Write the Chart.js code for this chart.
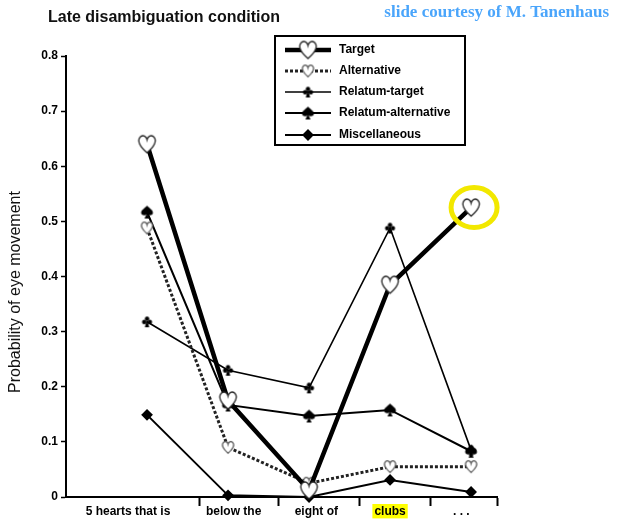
<!DOCTYPE html>
<html>
<head>
<meta charset="utf-8">
<script src="https://cdn.jsdelivr.net/npm/chart.js@4.4.0/dist/chart.umd.min.js"></script>
<style>
  html, body { margin: 0; padding: 0; background: #fff; }
  #wrap { position: relative; width: 622px; height: 519px; }
</style>
</head>
<body>
<div id="wrap"><canvas id="chart" width="622" height="519"></canvas></div>
<script>
// word positions along the sentence
const categories = ["5 hearts that is", "below the", "eight of", "clubs", ". . ."];
const categoryPos = [0, 1, 2, 3, 4];
const yTicks = [0, 0.1, 0.2, 0.3, 0.4, 0.5, 0.6, 0.7, 0.8];

// probability of eye movement per word
const target = [0.64, 0.175, 0.012, 0.385, 0.525];
const alternative = [0.488, 0.09, 0.025, 0.055, 0.055];
const relatumTarget = [0.318, 0.23, 0.198, 0.488, 0.085];
const relatumAlternative = [0.517, 0.167, 0.147, 0.158, 0.083];
const miscellaneous = [0.149, 0.003, 0.0, 0.031, 0.009];

// axis layout (dividers between words, label centres)
const dividerPos = [0.654, 1.617, 2.617, 3.494, 4.32];
const labelPos = [-0.235, 1.07, 2.09, 3.0, 3.88];

const FONT = '"Liberation Sans", Arial, sans-serif';

function makeCanvas(w, h) {
    const c = document.createElement("canvas");
    c.width = w; c.height = h;
    return c;
}

function heart(size, lw, stroke) {
    const c = makeCanvas(size + 4, size + 4);
    const g = c.getContext("2d");
    const s = size, ox = 2, oy = 2;
    g.beginPath();
    g.moveTo(ox + s / 2, oy + s * 0.95);
    g.bezierCurveTo(ox + s * 0.12, oy + s * 0.62, ox - s * 0.04, oy + s * 0.32, ox + s * 0.14, oy + s * 0.12);
    g.bezierCurveTo(ox + s * 0.3, oy - s * 0.02, ox + s * 0.46, oy + s * 0.08, ox + s / 2, oy + s * 0.26);
    g.bezierCurveTo(ox + s * 0.54, oy + s * 0.08, ox + s * 0.7, oy - s * 0.02, ox + s * 0.86, oy + s * 0.12);
    g.bezierCurveTo(ox + s * 1.04, oy + s * 0.32, ox + s * 0.88, oy + s * 0.62, ox + s / 2, oy + s * 0.95);
    g.closePath();
    g.fillStyle = "#fff";
    g.fill();
    g.lineWidth = lw;
    g.strokeStyle = stroke;
    g.stroke();
    return c;
}

function spade(size) {
    const c = makeCanvas(size + 2, size + 2);
    const g = c.getContext("2d");
    const s = size, ox = 1, oy = 1;
    g.fillStyle = "#000";
    g.beginPath();
    g.moveTo(ox + s / 2, oy);
    g.bezierCurveTo(ox + s * 0.35, oy + s * 0.2, ox, oy + s * 0.35, ox + s * 0.05, oy + s * 0.6);
    g.bezierCurveTo(ox + s * 0.12, oy + s * 0.8, ox + s * 0.38, oy + s * 0.78, ox + s * 0.47, oy + s * 0.65);
    g.lineTo(ox + s * 0.3, oy + s);
    g.lineTo(ox + s * 0.7, oy + s);
    g.lineTo(ox + s * 0.53, oy + s * 0.65);
    g.bezierCurveTo(ox + s * 0.62, oy + s * 0.78, ox + s * 0.88, oy + s * 0.8, ox + s * 0.95, oy + s * 0.6);
    g.bezierCurveTo(ox + s, oy + s * 0.35, ox + s * 0.65, oy + s * 0.2, ox + s / 2, oy);
    g.fill();
    return c;
}

function club(size) {
    const c = makeCanvas(size + 2, size + 2);
    const g = c.getContext("2d");
    const s = size, ox = 1, oy = 1, r = s * 0.2;
    g.fillStyle = "#000";
    [[0.5, 0.22], [0.24, 0.52], [0.76, 0.52]].forEach(p => {
        g.beginPath();
        g.arc(ox + s * p[0], oy + s * p[1], r, 0, Math.PI * 2);
        g.fill();
    });
    g.beginPath();
    g.moveTo(ox + s * 0.46, oy + s * 0.4);
    g.lineTo(ox + s * 0.3, oy + s);
    g.lineTo(ox + s * 0.7, oy + s);
    g.lineTo(ox + s * 0.54, oy + s * 0.4);
    g.fill();
    return c;
}

const heartBig = heart(19, 1.3, "#222");
const heartSmall = heart(13, 1.2, "#555");
const clubMark = club(11);
const spadeMark = spade(13);

// legend, title texts and highlight circle
const decorations = {
    id: "decorations",
    afterDatasetsDraw(chart) {
        const ctx = chart.ctx;
        const pt = chart.getDatasetMeta(0).data[4];
        ctx.save();
        ctx.beginPath();
        ctx.ellipse(pt.x + 3, pt.y, 23, 20, 0, 0, Math.PI * 2);
        ctx.lineWidth = 5;
        ctx.strokeStyle = "#f2e800";
        ctx.stroke();
        ctx.restore();
    },
    afterDraw(chart) {
        const ctx = chart.ctx;
        ctx.save();
        ctx.fillStyle = "#111";
        ctx.textBaseline = "middle";
        ctx.font = "bold 16px " + FONT;
        ctx.fillText("Late disambiguation condition", 48, 18);

        ctx.fillStyle = "#4aa5fb";
        ctx.font = 'bold 17px "Liberation Serif", "Times New Roman", serif';
        ctx.textAlign = "right";
        ctx.fillText("slide courtesy of M. Tanenhaus", 609, 13);

        // y title
        ctx.save();
        ctx.translate(16, 292);
        ctx.rotate(-Math.PI / 2);
        ctx.textAlign = "center";
        ctx.fillStyle = "#111";
        ctx.font = "16px " + FONT;
        ctx.fillText("Probability of eye movement", 0, 0);
        ctx.restore();

        // legend box
        ctx.lineWidth = 2;
        ctx.strokeStyle = "#000";
        ctx.strokeRect(275, 36, 190, 109);
        const rows = [50, 71, 92, 113, 135];
        ctx.textAlign = "left";
        ctx.font = "bold 12px " + FONT;
        chart.data.datasets.forEach((ds, i) => {
            const y = rows[i];
            ctx.save();
            ctx.beginPath();
            ctx.setLineDash(ds.borderDash || []);
            ctx.lineWidth = ds.borderWidth;
            ctx.strokeStyle = ds.borderColor;
            ctx.moveTo(285, y);
            ctx.lineTo(331, y);
            ctx.stroke();
            ctx.restore();
            Chart.helpers.drawPoint(ctx, {
                pointStyle: ds.pointStyle, radius: ds.pointRadius, rotation: 0,
                borderWidth: 1
            }, 308, y);
            ctx.fillStyle = "#000";
            ctx.strokeStyle = "#000";
            ctx.fillText(ds.label, 339, y);
        });
        ctx.restore();
    }
};

function points(values) {
    return values.map((v, i) => ({ x: categoryPos[i], y: v }));
}

new Chart(document.getElementById("chart"), {
    type: "line",
    data: {
        datasets: [
            { label: "Target", data: points(target), borderColor: "#000", borderWidth: 4.5,
              pointStyle: heartBig, pointRadius: 10 },
            { label: "Alternative", data: points(alternative), borderColor: "#222", borderWidth: 3,
              borderDash: [3, 2], pointStyle: heartSmall, pointRadius: 7 },
            { label: "Relatum-target", data: points(relatumTarget), borderColor: "#000", borderWidth: 1.6,
              pointStyle: clubMark, pointRadius: 6 },
            { label: "Relatum-alternative", data: points(relatumAlternative), borderColor: "#000", borderWidth: 2,
              pointStyle: spadeMark, pointRadius: 7 },
            { label: "Miscellaneous", data: points(miscellaneous), borderColor: "#000", borderWidth: 2,
              pointStyle: "rectRot", pointRadius: 4.5, pointBackgroundColor: "#000", pointBorderColor: "#000" }
        ].map(ds => Object.assign({ fill: false, tension: 0, clip: false, pointHoverRadius: ds.pointRadius }, ds))
    },
    options: {
        responsive: false,
        animation: false,
        events: [],
        layout: { padding: { top: 56, right: 125, left: 0, bottom: 0 } },
        plugins: { legend: { display: false }, tooltip: { enabled: false }, title: { display: false } },
        scales: {
            x: {
                type: "linear", position: "bottom", min: -1.0, max: 4.32, weight: 0,
                afterBuildTicks: s => { s.ticks = dividerPos.map(v => ({ value: v })); },
                afterFit: s => { s.height = 7; },
                ticks: { display: false },
                grid: { drawOnChartArea: false, tickLength: 9, color: "#000", tickWidth: 2 },
                border: { display: true, color: "#000", width: 2 }
            },
            words: {
                type: "linear", position: "bottom", min: -1.0, max: 4.32, weight: 1,
                afterBuildTicks: s => { s.ticks = labelPos.map(v => ({ value: v })); },
                afterFit: s => { s.height = 15; },
                grid: { display: false, drawTicks: false },
                border: { display: false },
                ticks: {
                    autoSkip: false, maxRotation: 0, padding: 0, color: "#000",
                    font: { family: FONT, size: 12, weight: "bold" },
                    callback: (v, i) => categories[i],
                    showLabelBackdrop: c => c.index === 3,
                    backdropColor: "#ffff00",
                    backdropPadding: { x: 2, y: 0 }
                }
            },
            y: {
                min: 0, max: 0.8,
                afterBuildTicks: s => { s.ticks = yTicks.map(v => ({ value: v })); },
                afterFit: s => { s.width = 66; },
                grid: { drawOnChartArea: false, tickLength: 5, color: "#000", tickWidth: 1.5 },
                border: { display: true, color: "#000", width: 2 },
                ticks: {
                    padding: 3, color: "#000",
                    font: { family: FONT, size: 12, weight: "bold" },
                    callback: v => v === 0 ? "0" : v.toFixed(1)
                }
            }
        }
    },
    plugins: [decorations]
});
</script>
</body>
</html>
